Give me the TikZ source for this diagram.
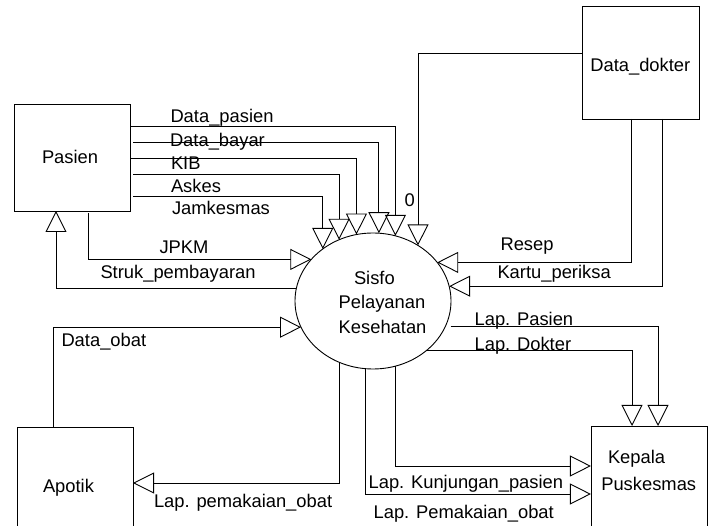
\documentclass[tikz,border=0pt]{standalone}
\usepackage{fontspec}
\setmainfont{Liberation Sans}
\usetikzlibrary{arrows.meta,shapes.geometric}
\begin{document}
\begin{tikzpicture}[x=1pt,y=-1pt,line width=0.9pt,
  ent/.style={draw,rectangle,inner sep=0pt,outer sep=0pt},
  proc/.style={draw,ellipse,inner sep=0pt,outer sep=0pt,minimum width=156pt,minimum height=136pt},
  lbl/.style={anchor=base west,inner sep=0pt,outer sep=0pt,font=\fontsize{18.35pt}{22pt}\selectfont},
  flow/.style={-{Triangle[open,length=21pt,width=21pt]}}]
\useasboundingbox (0,0) rectangle (713,526);
\clip (0,0) rectangle (713,526);
% entities
\node[ent,minimum width=116pt,minimum height=107pt] (pasien) at (72,157.5) {};
\node[ent,minimum width=117pt,minimum height=113pt] (ddok) at (640.5,62.5) {};
\node[ent,minimum width=116pt,minimum height=118pt] (apotik) at (75,486) {};
\node[ent,minimum width=116.5pt,minimum height=119pt] (kepala) at (649.2,485.5) {};
\node[proc] (sisfo) at (373,301) {};
% entity texts
\node[lbl] (tpasien) at (42,164) {Pasien};
\node[lbl] (tddok) at (590.3,71.7) {Data\_dokter};
\node[lbl] (tapotik) at (43,492.7) {Apotik};
\node[lbl] (tkepala) at (608,463.3) {Kepala};
\node[lbl] (tpusk) at (601.3,490.7) {Puskesmas};
\node[lbl] (tsisfo1) at (354,285) {Sisfo};
\node[lbl] (tsisfo2) at (338.6,309) {Pelayanan};
\node[lbl] (tsisfo3) at (338.7,333.3) {Kesehatan};
% flows from Pasien
\draw[flow] (pasien.east |- 0,126) -| (sisfo.71);
\draw[flow] ([xshift=3pt]pasien.east |- 0,142) -| (sisfo.85);
\draw[flow] (pasien.east |- 0,158) -| (sisfo.104);
\draw[flow] ([xshift=3pt]pasien.east |- 0,174) -| (sisfo.119);
\draw[flow] ([xshift=3pt]pasien.east |- 0,196) -| (sisfo.134);
\draw[flow] ([yshift=-2pt]pasien.south -| 88,0) |- (sisfo.146);
\draw[flow] (sisfo.171) -| (pasien.south -| 56,0);
\node[lbl] (ldp) at (170.5,122.5) {Data\_pasien};
\node[lbl] (ldb) at (170,146.5) {Data\_bayar};
\node[lbl] (lkib) at (171,169.5) {KIB};
\node[lbl] (lask) at (171,192.5) {Askes};
\node[lbl] (ljam) at (172,215) {Jamkesmas};
\node[lbl] (ljpkm) at (159.5,253.3) {JPKM};
\node[lbl] (lstruk) at (100.5,278.3) {Struk\_pembayaran};
% flows from Data_dokter
\draw[flow] (ddok.west |- 0,53) -| (sisfo.51);
\draw[flow] (ddok.south -| 631,0) |- (sisfo.31);
\draw[flow] (ddok.south -| 662,0) |- (sisfo.11);
\node[lbl] (lzero) at (404.5,207) {0};
\node[lbl] (lresep) at (500.5,250.7) {Resep};
\node[lbl] (lkartu) at (497.5,278.3) {Kartu\_periksa};
% flows with Apotik
\draw[flow] (apotik.north -| 53,0) |- (sisfo.200);
\draw[flow] (sisfo.241) |- (apotik.east |- 0,483);
\node[lbl] (ldo) at (61.5,346.5) {Data\_obat};
\node[lbl] (llpo) at (154,508) {Lap. pemakaian\_obat};
% flows to Kepala Puskesmas
\draw[flow] ([xshift=5pt]sisfo.341) -| (kepala.north -| 658,0);
\draw[flow] (sisfo.317) -| (kepala.north -| 632,0);
\draw[flow] (sisfo.289) |- (kepala.west |- 0,466);
\draw[flow] (sisfo.264) |- (kepala.west |- 0,494);
\node[lbl] (llp) at (474.6,326) {Lap. Pasien};
\node[lbl] (lld) at (474.6,350.7) {Lap. Dokter};
\node[lbl] (llk) at (368.6,488.3) {Lap. Kunjungan\_pasien};
\node[lbl] (llpo2) at (373.6,519) {Lap. Pemakaian\_obat};
\end{tikzpicture}
\end{document}
